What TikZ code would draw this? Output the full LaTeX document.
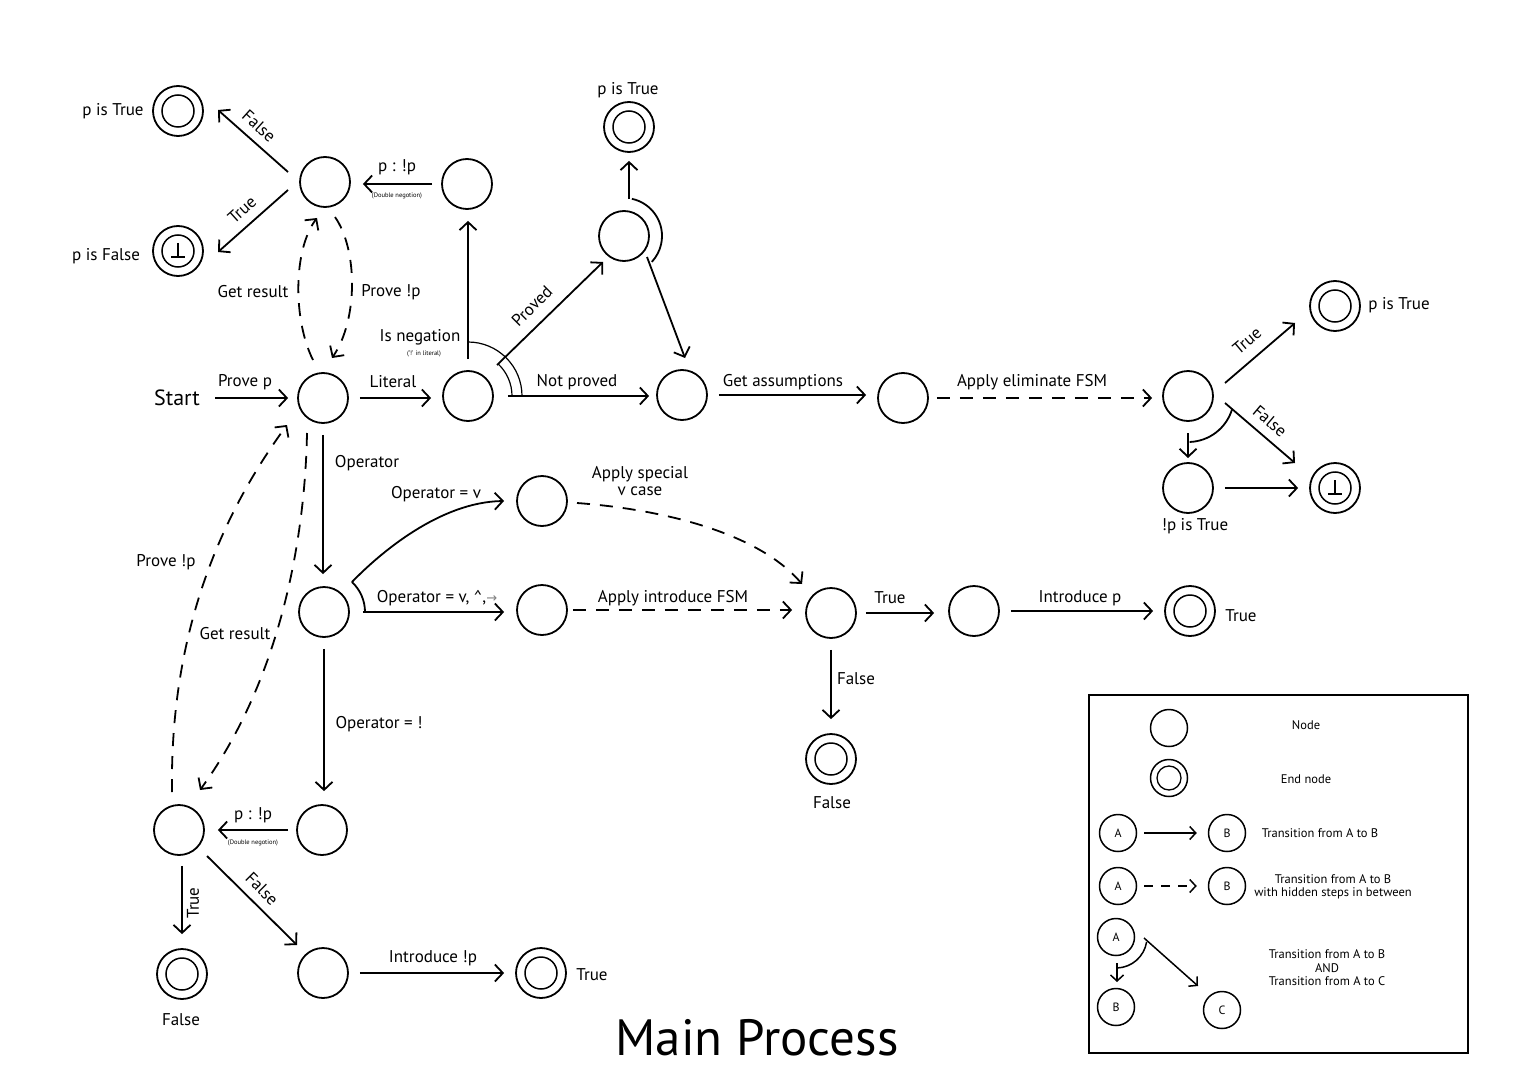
\documentclass[tikz,border=0pt]{standalone}
\usepackage{fontspec}
\setmainfont{PT Sans}
\newfontfamily\arrowfont{DejaVu Sans}
\usetikzlibrary{arrows.meta,calc}
\begin{document}
\begin{tikzpicture}[x=1pt,y=-1pt,
  st/.style={circle,draw,line width=1.8pt,minimum size=50pt,inner sep=0pt},
  en/.style={st,path picture={\draw[line width=1.5pt] (path picture bounding box.center) circle (16pt);}},
  bot/.style={st,path picture={
     \draw[line width=1.5pt] (path picture bounding box.center) circle (16pt);
     \draw[line width=1.3pt] ($(path picture bounding box.center)+(0pt,8pt)$) -- ($(path picture bounding box.center)+(0pt,-6pt)$);
     \draw[line width=1.3pt] ($(path picture bounding box.center)+(-7pt,-6pt)$) -- ($(path picture bounding box.center)+(7pt,-6pt)$);}},
  lst/.style={circle,draw,line width=1.5pt,minimum size=37pt,inner sep=0pt,font=\fontsize{12}{14}\selectfont},
  lend/.style={lst,path picture={\draw[line width=1.3pt] (path picture bounding box.center) circle (12pt);}},
  arr/.style={-{Straight Barb[length=8pt,width=17pt]},line width=1.8pt,shorten <=11pt,shorten >=11pt},
  arrc/.style={arr,shorten <=0pt,shorten >=0pt},
  dsh/.style={arr,dash pattern=on 13pt off 10pt},
  dshc/.style={arrc,dash pattern=on 13pt off 10pt},
  arrl/.style={-{Straight Barb[length=6pt,width=13pt]},line width=1.5pt},
  andarc/.style={line width=1.8pt},
  lbl/.style={font=\fontsize{17}{19}\selectfont,inner sep=0pt},
  tiny/.style={font=\fontsize{6.5}{7}\selectfont,inner sep=0pt},
  ltxt/.style={font=\fontsize{12.5}{13.5}\selectfont,inner sep=0pt,align=center}]
\useasboundingbox (0,0) rectangle (1514,1091);

% ---------- nodes ----------
\node[font=\fontsize{22}{24}\selectfont,inner sep=2pt] (start) at (177,398) {Start};
\node[st] (n0) at (323,398) {};
\node[st] (n1) at (468,396) {};
\node[st] (n2) at (467,184) {};
\node[st] (n3) at (325,182) {};
\node[en] (e1) at (178,111) {};
\node[bot] (e2) at (178,251) {};
\node[st] (n4) at (624,236) {};
\node[en] (e3) at (629,127) {};
\node[st] (n5) at (682,395) {};
\node[st] (n6) at (903,398) {};
\node[st] (n7) at (1188,396) {};
\node[en] (e4) at (1335,306) {};
\node[st] (n8) at (1188,488) {};
\node[bot] (e5) at (1335,488) {};
\node[st] (n9) at (324,612) {};
\node[st] (n10) at (542,501) {};
\node[st] (n11) at (542,610) {};
\node[st] (n12) at (831,613) {};
\node[st] (n13) at (974,611) {};
\node[en] (e6) at (1190,611) {};
\node[en] (e7) at (831,759) {};
\node[st] (n14) at (322,830) {};
\node[st] (n15) at (179,830) {};
\node[en] (e8) at (182,974) {};
\node[st] (n16) at (323,973) {};
\node[en] (e9) at (541,973) {};

% ---------- connectors ----------
\draw[arr,shorten <=13pt,shorten >=9pt] (start.east) -- (n0.west);
\draw[arr] (n0.east) -- (n0.east -| n1.west);
\draw[arr] (n1.north) -- (n1.north |- n2.south);
\draw[arr,shorten <=9pt,shorten >=12pt] (n2.west) -- (n2.west -| n3.east);
\draw[arrc] ($(n3)+(-37,-10)$) -- ($(e1)+(40,-1)$);
\draw[arrc] ($(n3)+(-37,8)$) -- ($(e2)+(40,1)$);
\draw[dshc] ($(n0)+(-10,-38)$) .. controls (293,320) and (293,250) .. ($(n3)+(-8,36)$);
\draw[dshc] ($(n3)+(10,35)$) .. controls (358,250) and (358,320) .. ($(n0)+(9,-40)$);
\draw[arrc] ($(n1)+(29,-31)$) -- ($(n4)+(-21,26)$);
\draw[arr,shorten <=14pt,shorten >=7pt] (n1.east) -- (n1.east -| n5.west);
\draw[line width=1.2pt] ($(n1)+(90:54pt)$) arc[start angle=90,end angle=0,radius=54pt];
\draw[line width=1.2pt] ($(n1)+(47:44pt)$) arc[start angle=47,end angle=0,radius=44pt];
\draw[arr,shorten >=8pt] (e3.south |- n4.north) -- (e3.south);
\draw[andarc] ($(n4)+(78:38pt)$) arc[start angle=78,end angle=-43,radius=38pt];
\draw[arrc] ($(n4)+(23,21)$) -- ($(n5)+(3,-37)$);
\draw[arr] (n5.east) -- (n5.east -| n6.west);
\draw[dsh,shorten <=8pt,shorten >=10pt] (n6.east) -- (n6.east -| n7.west);
\draw[arrc] ($(n7)+(37,-13)$) -- ($(e4)+(-40,17)$);
\draw[arrc] ($(n7)+(37,7)$) -- ($(e5)+(-40,-25)$);
\draw[andarc] ($(n7)+(-17:46pt)$) arc[start angle=-17,end angle=-88,radius=46pt];
\draw[arrc] ($(n7)+(0,37)$) -- ($(n8)+(0,-30)$);
\draw[arr] (n8.east) -- (e5.west);
\draw[arr,shorten >=12pt] (n0.south) -- (n0.south |- n9.north);
\draw[arrc] ($(n9)+(28,-30)$) .. controls (380,553) and (440,502) .. ($(n10)+(-38,0)$);
\draw[andarc] ($(n9)+(47:41pt)$) arc[start angle=47,end angle=0,radius=41pt];
\draw[arr,shorten <=13pt,shorten >=12pt] (n9.east) -- (n9.east -| n11.west);
\draw[dshc] ($(n10)+(35,2)$) .. controls (670,510) and (760,535) .. ($(n12)+(-29,-29)$);
\draw[dsh,shorten <=5pt,shorten >=13pt] (n11.east) -- (n11.east -| n12.west);
\draw[arr,shorten <=9pt,shorten >=14pt] (n12.east) -- (n12.east -| n13.west);
\draw[arr] (n13.east) -- (e6.west);
\draw[arr,shorten >=14pt] (n12.south) -- (e7.north);
\draw[arr,shorten >=13pt] (n9.south) -- (n9.south |- n14.north);
\draw[arr,shorten <=8pt,shorten >=13pt] (n14.west) -- (n14.west -| n15.east);
\draw[dshc] ($(n15)+(-7,-38)$) .. controls (170,650) and (210,530) .. ($(n0)+(-36,27)$);
\draw[dshc] ($(n0)+(-16,35)$) .. controls (305,540) and (280,680) .. ($(n15)+(21,-40)$);
\draw[arr,shorten <=10pt,shorten >=14pt] (e8.north |- n15.south) -- (e8.north);
\draw[arrc] ($(n15)+(28,26)$) -- ($(n16)+(-26,-28)$);
\draw[arr] (n16.east) -- (e9.west);

% ---------- labels ----------
\node[lbl] (l1) at (245,382) {Prove p};
\node[lbl] (l2) at (393,382) {Literal};
\node[lbl] (l3) at (420,337) {Is negation};
\node[tiny] (l3b) at (424,354) {('!' in literal)};
\node[lbl] (l4) at (397,167) {p : !p};
\node[tiny] (l4b) at (397,196) {(Double negotion)};
\node[lbl,rotate=-42] (l5) at (259,126) {False};
\node[lbl,rotate=42] (l6) at (242,210) {True};
\node[lbl] (l7) at (113,111) {p is True};
\node[lbl] (l8) at (106,256) {p is False};
\node[lbl] (l9) at (253,292) {Get result};
\node[lbl] (l10) at (391,292) {Prove !p};
\node[lbl,rotate=45] (l11) at (532,306) {Proved};
\node[lbl] (l12) at (628,90) {p is True};
\node[lbl] (l13) at (577,382) {Not proved};
\node[lbl] (l14) at (783,382) {Get assumptions};
\node[lbl] (l15) at (1032,382) {Apply eliminate FSM};
\node[lbl,rotate=40] (l16) at (1247,341) {True};
\node[lbl,rotate=-40] (l17) at (1270,421) {False};
\node[lbl] (l18) at (1399,305) {p is True};
\node[lbl] (l19) at (1195,526) {!p is True};
\node[lbl] (l20) at (367,463) {Operator};
\node[lbl] (l21) at (436,494) {Operator = v};
\node[lbl,align=center,font=\fontsize{17}{17}\selectfont] (l22) at (640,481) {Apply special\\v case};
\node[lbl] (l23) at (437,598) {Operator = v, \textasciicircum,\textcolor{gray}{\arrowfont\fontsize{13}{14}\selectfont →}};
\node[lbl] (l24) at (673,598) {Apply introduce FSM};
\node[lbl] (l25) at (890,598) {True};
\node[lbl] (l26) at (1080,598) {Introduce p};
\node[lbl] (l27) at (1241,616) {True};
\node[lbl] (l28) at (856,679) {False};
\node[lbl] (l29) at (832,803) {False};
\node[lbl] (l30) at (379,724) {Operator = !};
\node[lbl] (l31) at (166,562) {Prove !p};
\node[lbl] (l32) at (235,634) {Get result};
\node[lbl] (l33) at (253,815) {p : !p};
\node[tiny] (l33b) at (253,843) {(Double negotion)};
\node[lbl,rotate=90] (l34) at (193,903) {True};
\node[lbl,rotate=-45] (l35) at (262,889) {False};
\node[lbl] (l36) at (433,958) {Introduce !p};
\node[lbl] (l37) at (592,975) {True};
\node[lbl] (l38) at (181,1020) {False};
\node[font=\fontsize{51}{56}\selectfont,inner sep=0pt] (title) at (757,1038) {Main Process};

% ---------- legend ----------
\draw[line width=1.5pt] (1089,695) rectangle (1468,1053);
\node[lst] (lg1) at (1169,728) {};
\node[lend] (lg2) at (1169,778) {};
\node[ltxt] (lt1) at (1306,725) {Node};
\node[ltxt] (lt2) at (1306,779) {End node};
\node[lst] (la1) at (1118,833) {A};
\node[lst] (lb1) at (1227,833) {B};
\draw[arrl,shorten <=7pt,shorten >=11pt] (la1.east) -- (lb1.west);
\node[ltxt] (lt3) at (1320,833) {Transition from A to B};
\node[lst] (la2) at (1118,886) {A};
\node[lst] (lb2) at (1227,886) {B};
\draw[arrl,dash pattern=on 9pt off 8pt,shorten <=7pt,shorten >=11pt] (la2.east) -- (lb2.west);
\node[ltxt] (lt4) at (1333,887) {Transition from A to B\\with hidden steps in between};
\node[lst] (la3) at (1116,937) {A};
\node[lst] (lb3) at (1116,1007) {B};
\node[lst] (lc3) at (1222,1010) {C};
\draw[line width=1.5pt] ($(la3)+(-9:31pt)$) arc[start angle=-9,end angle=-88,radius=31pt];
\draw[arrl] ($(la3)+(1,26)$) -- ($(lb3)+(1,-25)$);
\draw[arrl] ($(la3)+(28,1)$) -- ($(lc3)+(-24,-24)$);
\node[ltxt] (lt5) at (1327,968) {Transition from A to B\\AND\\Transition from A to C};
\end{tikzpicture}
\end{document}
